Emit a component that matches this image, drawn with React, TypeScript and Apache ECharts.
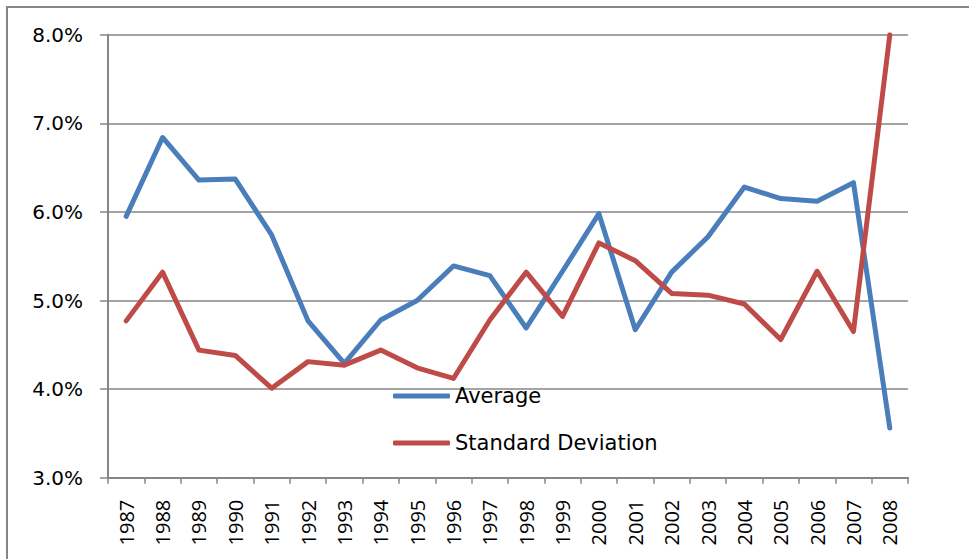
import React, { useEffect, useRef } from "react";
import * as echarts from "echarts";

const years = [
  "1987", "1988", "1989", "1990", "1991", "1992", "1993", "1994", "1995", "1996", "1997",
  "1998", "1999", "2000", "2001", "2002", "2003", "2004", "2005", "2006", "2007", "2008",
];
const averageValues = [
  5.95, 6.84, 6.36, 6.37, 5.74, 4.77, 4.29, 4.78, 5.0, 5.39, 5.28,
  4.69, 5.33, 5.98, 4.67, 5.32, 5.72, 6.28, 6.15, 6.12, 6.33, 3.56,
];
const stdDevValues = [
  4.77, 5.32, 4.44, 4.38, 4.01, 4.31, 4.27, 4.44, 4.24, 4.12, 4.78,
  5.32, 4.82, 5.65, 5.45, 5.08, 5.06, 4.96, 4.56, 5.33, 4.65, 8.0,
];
const yTicks = [3, 4, 5, 6, 7, 8];

const AXIS_GRAY = "#868686";

export default function App() {
  const ref = useRef<HTMLDivElement>(null);

  useEffect(() => {
    if (!ref.current) return;
    const chart = echarts.init(ref.current, null, { renderer: "svg" });
    chart.setOption({
      animation: false,
      backgroundColor: "#ffffff",
      graphic: [
        {
          type: "rect",
          shape: { x: 7, y: 7, width: 1100, height: 700 },
          style: { fill: "none", stroke: AXIS_GRAY, lineWidth: 2 },
          silent: true,
        },
      ],
      grid: { left: 108, right: 61, top: 34.7, bottom: 81.3, containLabel: false },
      legend: {
        orient: "vertical",
        left: 393,
        top: 384,
        padding: 0,
        itemWidth: 57,
        itemHeight: 5,
        itemGap: 23,
        icon: "roundRect",
        textStyle: {
          fontFamily: "DejaVu Sans",
          fontSize: 21,
          lineHeight: 24,
          color: "#000000",
        },
        data: ["Average", "Standard Deviation"],
      },
      xAxis: {
        type: "category",
        data: years,
        boundaryGap: true,
        axisLine: { show: true, lineStyle: { color: AXIS_GRAY, width: 2 } },
        axisTick: { show: true, alignWithLabel: false, length: 6, lineStyle: { color: AXIS_GRAY, width: 1.5 } },
        axisLabel: {
          rotate: 90,
          interval: 0,
          margin: 22,
          fontFamily: "Open Sans",
          fontSize: 20,
          color: "#000000",
        },
        splitLine: { show: false },
      },
      yAxis: {
        type: "value",
        min: yTicks[0],
        max: yTicks[yTicks.length - 1],
        interval: 1,
        axisLine: { show: true, lineStyle: { color: AXIS_GRAY, width: 2 } },
        axisTick: { show: true, length: 8, lineStyle: { color: AXIS_GRAY, width: 1.5 } },
        axisLabel: {
          margin: 25,
          fontFamily: "DejaVu Sans",
          fontSize: 20,
          color: "#000000",
          formatter: (v: number) => `${v.toFixed(1)}%`,
        },
        splitLine: { show: true, lineStyle: { color: AXIS_GRAY, width: 1.5 } },
      },
      series: [
        {
          name: "Average",
          type: "line",
          data: averageValues,
          symbol: "none",
          color: "#4A7EBB",
          lineStyle: { color: "#4A7EBB", width: 5, cap: "round", join: "round" },
        },
        {
          name: "Standard Deviation",
          type: "line",
          data: stdDevValues,
          symbol: "none",
          color: "#BE4B48",
          lineStyle: { color: "#BE4B48", width: 5, cap: "round", join: "round" },
        },
      ],
    });
    return () => chart.dispose();
  }, []);

  return (
    <div
      ref={ref}
      style={{ position: "fixed", left: 0, top: 0, width: 969, height: 559, background: "#fff" }}
    />
  );
}
